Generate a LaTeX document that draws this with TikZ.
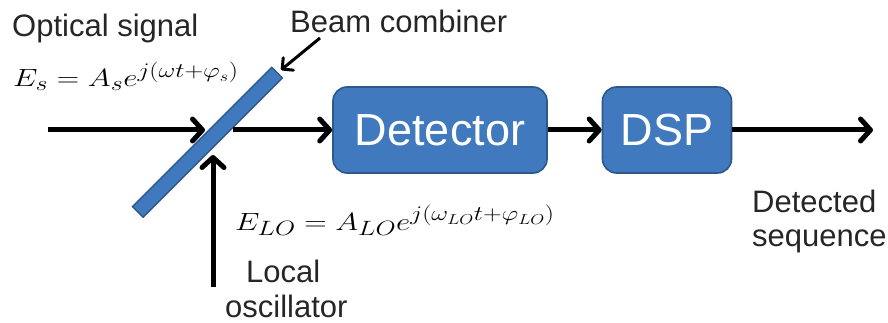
\documentclass[tikz,border=0pt]{standalone}
\usepackage{fontspec}
\usepackage{graphicx}
\setmainfont{Liberation Sans}
\usetikzlibrary{arrows.meta}
\DeclareMathSizes{24}{24}{20}{15}
\definecolor{boxfill}{RGB}{65,121,190}
\definecolor{boxline}{RGB}{44,88,138}
\tikzset{
  lbl/.style={font=\fontsize{31}{36}\selectfont, inner sep=0pt, text=black!85},
  eq/.style={font=\fontsize{24}{28}\selectfont, inner sep=0pt},
  blk/.style={draw=boxline, line width=1.6pt, fill=boxfill, rounded corners=14pt,
    text=white, font=\fontsize{45}{50}\selectfont, inner sep=0pt},
  arr/.style={line width=5pt, -{Straight Barb[length=10pt,width=22pt,round]}},
  thinarr/.style={line width=3pt, -{Straight Barb[length=8pt,width=16pt,round]}}
}
\begin{document}
\begin{tikzpicture}[x=1pt,y=-1pt]
\useasboundingbox (0,0) rectangle (888,323);
% beam combiner bar
\node[draw=boxline, line width=1.4pt, fill=boxfill, minimum width=197pt, minimum height=15pt,
  inner sep=0pt, rotate=45] (bar) at (207.5,142.3) {};
% blocks
\node[blk, minimum width=214pt, minimum height=86pt] (det) at (440,130) {Detector};
\node[blk, minimum width=129pt, minimum height=86pt] (dsp) at (667,130) {DSP};
% coordinates
\coordinate (sin) at (48,130);
\coordinate (sT) at (205,130);
\coordinate (sO) at (233,130);
\coordinate (out) at (873,130);
\coordinate (lo) at (213,287);
\coordinate (loT) at (213,155);
\coordinate (bcT) at (320,38);
\coordinate (bcH) at (281,70);
% arrows
\draw[arr] (sin) -- (sT);
\draw[arr] (sO) -- (det.west);
\draw[arr] (det.east) -- (dsp.west);
\draw[arr] (dsp.east) -- (out);
\draw[arr] (lo) -- (loT);
\draw[thinarr] (bcT) -- (bcH);
% labels
\node[lbl, anchor=base west] (opt) at (12,37) {Optical signal};
\node[lbl, anchor=base west] (bc) at (290,33) {Beam combiner};
\node[eq, anchor=base west] (es) at (13,87) {\scalebox{1.25}[1]{$E_s = A_s e^{j(\omega t+\varphi_s)}$}};
\node[eq, anchor=base west] (elo) at (235,230) {\scalebox{1.25}[1]{$E_{LO} = A_{LO} e^{j(\omega_{LO} t+\varphi_{LO})}$}};
\node[lbl, anchor=base west] (l1) at (246,282) {Local};
\node[lbl, anchor=base west] (l2) at (225,317) {oscillator};
\node[lbl, anchor=base west] (d1) at (752,212) {Detected};
\node[lbl, anchor=base west] (d2) at (752,246) {sequence};
\end{tikzpicture}
\end{document}
